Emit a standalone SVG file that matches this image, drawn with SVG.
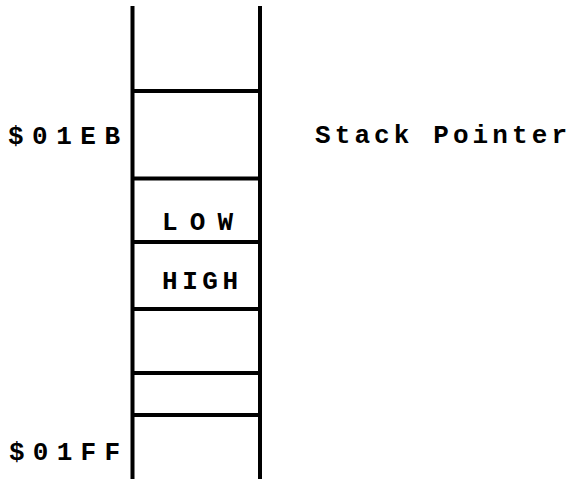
<svg xmlns="http://www.w3.org/2000/svg" width="572" height="479" viewBox="0 0 572 479">
<style>
.l{stroke:#000;stroke-width:4;fill:none;stroke-linecap:butt}
.h{stroke:#000;stroke-width:4}
.t{font-family:"Liberation Mono","Courier New",monospace;font-weight:bold;font-size:26px;fill:#000}
</style>
<rect width="572" height="479" fill="#fff"/>
<g id="stack">
<line class="l" x1="132.5" y1="6" x2="132.5" y2="479"/>
<line class="l" x1="260" y1="6" x2="260" y2="479"/>
<line class="h" x1="132" y1="91" x2="260" y2="91"/>
<line class="h" x1="132" y1="178.5" x2="260" y2="178.5"/>
<line class="h" x1="132" y1="242" x2="260" y2="242"/>
<line class="h" x1="132" y1="309" x2="260" y2="309"/>
<line class="h" x1="132" y1="373" x2="260" y2="373"/>
<line class="h" x1="132" y1="415" x2="260" y2="415"/>
</g>
<g id="labels">
<text class="t" x="8" y="144" textLength="112" lengthAdjust="spacing">$01EB</text>
<text class="t" x="9" y="460" textLength="111" lengthAdjust="spacing">$01FF</text>
<text class="t" x="162" y="230" textLength="71" lengthAdjust="spacing">LOW</text>
<text class="t" x="162" y="289" textLength="76" lengthAdjust="spacing">HIGH</text>
<text class="t" x="315" y="143" textLength="252" lengthAdjust="spacing">Stack Pointer</text>
</g>
</svg>
